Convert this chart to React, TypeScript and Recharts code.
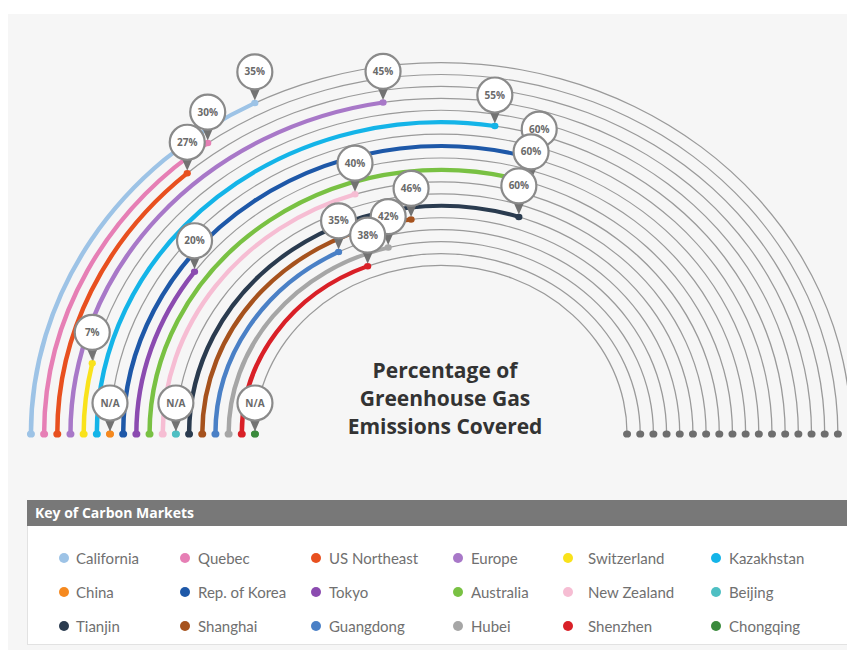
import React from 'react';
import { RadialBarChart, RadialBar, PolarAngleAxis, PolarRadiusAxis, LabelList } from 'recharts';

// rings from outermost to innermost, same order as the key
const markets = [
  'California', 'Quebec', 'US Northeast', 'Europe', 'Switzerland', 'Kazakhstan',
  'China', 'Rep. of Korea', 'Tokyo', 'Australia', 'New Zealand', 'Beijing',
  'Tianjin', 'Shanghai', 'Guangdong', 'Hubei', 'Shenzhen', 'Chongqing',
];
// % of greenhouse gas emissions covered, null = N/A
const coverage: (number | null)[] = [
  35, 30, 27, 45, 7, 55,
  null, 60, 20, 60, 40, null,
  60, 46, 35, 42, 38, null,
];
const colors = [
  '#9dc3e6', '#e67fb5', '#e8501f', '#a878c8', '#f9e21b', '#14b4e8',
  '#f5891f', '#1e58a8', '#8b4bb0', '#79c143', '#f6bdd3', '#4ebfc3',
  '#2a3b4f', '#a6521d', '#4a80c6', '#a6a6a6', '#d92027', '#3a8a3c',
];
const titleLines = ['Percentage of', 'Greenhouse Gas', 'Emissions Covered'];

const data = markets.map((name, i) => ({
  name,
  value: coverage[i] ?? 0,
  label: coverage[i] == null ? 'N/A' : `${coverage[i]}%`,
  color: colors[i],
}));

const K = 0.906; // vertical squash of the source image
const W = 847;
const CY = 480;
const TOP = -60;
const RAD = Math.PI / 180;

const polar = (cx: number, cy: number, r: number, a: number) => ({
  x: cx + Math.cos(-a * RAD) * r,
  y: cy + Math.sin(-a * RAD) * r,
});

function ArcShape(props: any) {
  const { cx, cy, innerRadius, outerRadius, startAngle, endAngle, background } = props;
  const color = props.payload?.color ?? props.color;
  const r = (innerRadius + outerRadius) / 2;
  const a0 = Math.max(startAngle, endAngle);
  const a1 = Math.min(startAngle, endAngle);
  const p0 = polar(cx, cy, r, a0);
  const p1 = polar(cx, cy, r, a1);
  const trackEnd = background ? Math.min(background.startAngle, background.endAngle) : 0;
  const g = polar(cx, cy, r, trackEnd);
  return (
    <g>
      <circle cx={g.x} cy={g.y} r={4} fill="#6e6e6e" />
      {a0 - a1 > 0.01 && (
        <path
          d={`M${p0.x},${p0.y} A${r},${r} 0 0 1 ${p1.x},${p1.y}`}
          stroke={color}
          strokeWidth={4.5}
          fill="none"
          strokeLinecap="round"
        />
      )}
    </g>
  );
}

function Pin(props: any) {
  const { viewBox, index, value } = props;
  if (!viewBox) return null;
  const { cx, cy, innerRadius, outerRadius, startAngle, endAngle } = viewBox;
  const r = (innerRadius + outerRadius) / 2;
  const s = polar(cx, cy, r, Math.max(startAngle, endAngle));
  const e = polar(cx, cy, r, Math.min(startAngle, endAngle));
  const color = data[index]?.color ?? '#999';
  return (
    <g>
      <circle cx={s.x} cy={s.y} r={4} fill={color} />
      <circle cx={e.x} cy={e.y} r={3.6} fill={color} />
      <g transform={`translate(${e.x},${e.y}) scale(1,${1 / K})`}>
        <path d="M-5.5,-15 L5.5,-15 L0,-2.5 Z" fill="#727272" />
        <circle cx={0} cy={-31} r={17.5} fill="#fff" stroke="#8a8a8a" strokeWidth={2.2} />
        <text
          x={0}
          y={-27.5}
          textAnchor="middle"
          fontSize={10}
          fontWeight={700}
          fill="#6a6a6a"
          fontFamily="'Open Sans', sans-serif"
        >
          {value}
        </text>
      </g>
    </g>
  );
}

const dotX = [55, 176, 307, 449, 559, 707];
const textGap = [12, 13, 13, 13, 20, 13];

export default function App() {
  return (
    <div
      style={{
        position: 'relative',
        width: W,
        height: 642,
        marginTop: 6,
        background: '#f6f6f6',
        fontFamily: "'Open Sans', sans-serif",
      }}
    >
      <div
        style={{
          position: 'absolute',
          left: 0,
          top: TOP,
          transform: `scaleY(${K})`,
          transformOrigin: `0px ${CY}px`,
        }}
      >
        <RadialBarChart
          width={W}
          height={CY + 12}
          data={data}
          cx={433}
          cy={CY}
          innerRadius={179.4}
          outerRadius={416.6}
          startAngle={180}
          endAngle={0}
          barSize={1.3}
        >
          <PolarAngleAxis type="number" domain={[0, 100]} tick={false} axisLine={false} />
          <PolarRadiusAxis type="category" dataKey="name" tick={false} axisLine={false} reversed />
          <RadialBar
            dataKey="value"
            background={{ fill: '#9a9a9a' }}
            shape={ArcShape}
            isAnimationActive={false}
          >
            <LabelList dataKey="label" content={Pin} />
          </RadialBar>
        </RadialBarChart>
      </div>

      <div
        style={{
          position: 'absolute',
          left: 337,
          top: 342,
          width: 200,
          textAlign: 'center',
          fontSize: 21,
          fontWeight: 700,
          lineHeight: '28px',
          color: '#333',
        }}
      >
        {titleLines.map((t) => (
          <div key={t}>{t}</div>
        ))}
      </div>

      <div style={{ position: 'absolute', left: 19, top: 486, width: 825 }}>
        <div
          style={{
            height: 26,
            background: '#787878',
            color: '#fff',
            fontWeight: 700,
            fontSize: 14,
            lineHeight: '26px',
            paddingLeft: 8,
          }}
        >
          Key of Carbon Markets
        </div>
        <div
          style={{
            position: 'relative',
            height: 118,
            background: '#fff',
            borderLeft: '1px solid #e2e2e2',
            borderRight: '1px solid #e2e2e2',
            borderBottom: '1px solid #e2e2e2',
            fontFamily: 'Lato, sans-serif',
          }}
        >
          {data.map((d, i) => {
            const col = i % 6;
            const row = Math.floor(i / 6);
            const y = 32 + row * 34;
            const x = dotX[col] - 19;
            return (
              <React.Fragment key={d.name}>
                <div
                  style={{
                    position: 'absolute',
                    left: x - 5,
                    top: y - 5,
                    width: 10,
                    height: 10,
                    borderRadius: 5,
                    background: d.color,
                  }}
                />
                <div
                  style={{
                    position: 'absolute',
                    left: x + textGap[col],
                    top: y - 10,
                    fontSize: 15,
                    lineHeight: '20px',
                    color: '#707070',
                    whiteSpace: 'nowrap',
                  }}
                >
                  {d.name}
                </div>
              </React.Fragment>
            );
          })}
        </div>
      </div>
    </div>
  );
}
